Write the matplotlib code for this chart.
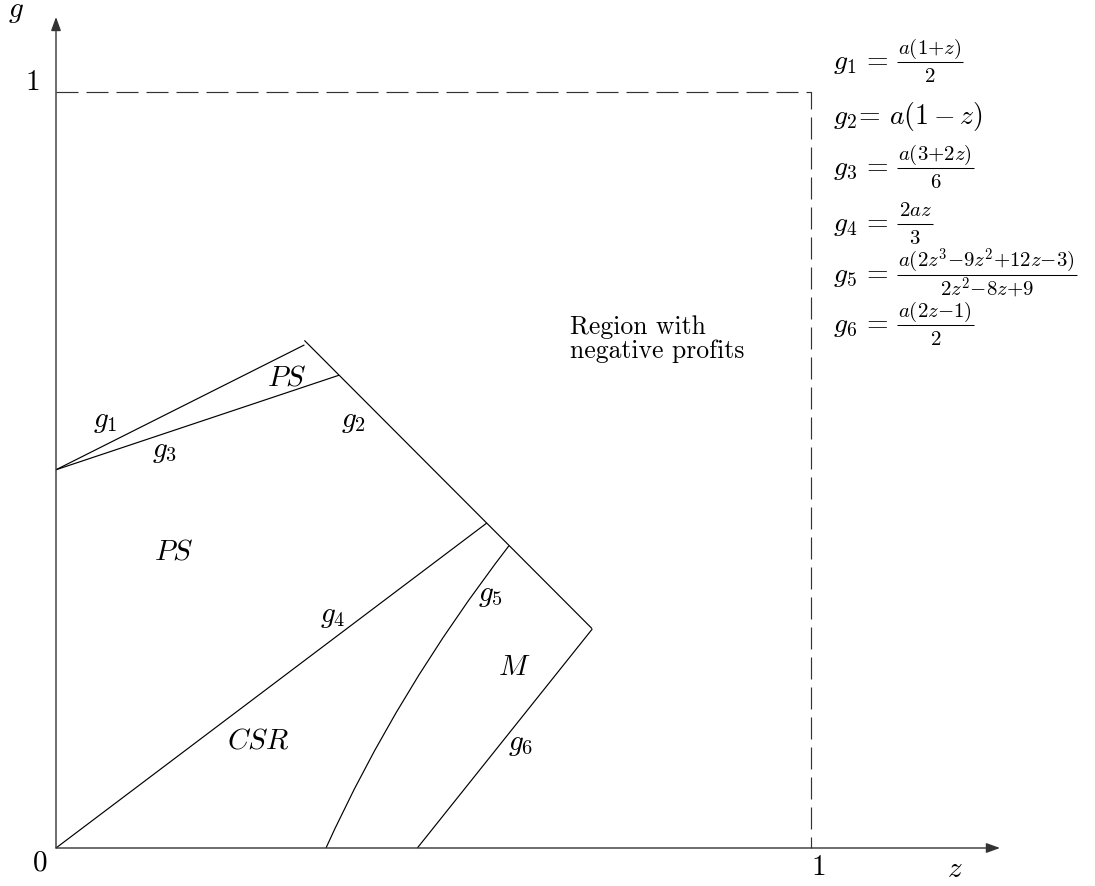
import matplotlib
matplotlib.use('Agg')
import matplotlib.pyplot as plt
from matplotlib.path import Path
from matplotlib.patches import PathPatch

plt.rcParams['mathtext.fontset'] = 'cm'
plt.rcParams['font.family'] = ['cmr10', 'DejaVu Serif']
plt.rcParams['axes.unicode_minus'] = False

# ---------------- data ----------------
g1_z = [0.0, 0.329]
g1_g = [0.500, 0.665]
g3_z = [0.0, 0.375]
g3_g = [0.500, 0.625]
g2_z = [0.329, 0.710]
g2_g = [0.671, 0.290]
g4_z = [0.0, 0.5705]
g4_g = [0.0, 0.4295]
g5_z = [0.3576, 0.452, 0.600]      # quadratic Bezier (start, control, end)
g5_g = [0.0, 0.208, 0.3996]
g6_z = [0.4786, 0.7103]
g6_g = [0.0, 0.2895]
bound_z = [0.0, 1.0, 1.0]
bound_g = [1.0, 1.0, 0.0]

curve_labels = [r'$g_1$', r'$g_3$', r'$g_2$', r'$g_4$', r'$g_5$', r'$g_6$']
curve_label_z = [0.065, 0.144, 0.394, 0.367, 0.575, 0.615]
curve_label_g = [0.563, 0.524, 0.563, 0.306, 0.334, 0.136]

region_labels = [r'$PS$', r'$PS$', r'$CSR$', r'$M$']
region_label_z = [0.3055, 0.1554, 0.268, 0.607]
region_label_g = [0.621, 0.391, 0.1405, 0.238]

formula_lhs = [r'$g_1\,=$', r'$g_2\!=\,a(1-z)$', r'$g_3\,=$',
               r'$g_4\,=$', r'$g_5\,=$', r'$g_6\,=$']
formula_num = [r'$a(1{+}z)$', '', r'$a(3{+}2z)$', r'$2az$',
               r'$a(2z^3{-}9z^2{+}12z{-}3)$', r'$a(2z{-}1)$']
formula_den = [r'$2$', '', r'$6$', r'$3$', r'$2z^2{-}8z{+}9$', r'$2$']
formula_axis_px = [62, 117, 168, 224, 275, 325]   # vertical pixel of each line's math axis

# ---------------- figure ----------------
W, H = 1095, 886
fig = plt.figure(figsize=(W / 100, H / 100), dpi=100)
ax = fig.add_axes([0, 0, 1, 1])
ox, oy, sx, sy = 56, 848, 755, 756.5
ax.set_xlim((0 - ox) / sx, (W - ox) / sx)
ax.set_ylim((oy - H) / sy, oy / sy)
ax.axis('off')

lw = 0.85
kw = dict(color='black', lw=lw, solid_capstyle='butt')
ax.plot(g1_z, g1_g, **kw)
ax.plot(g3_z, g3_g, **kw)
ax.plot(g2_z, g2_g, **kw)
ax.plot(g4_z, g4_g, **kw)
ax.plot(g6_z, g6_g, **kw)
path = Path(list(zip(g5_z, g5_g)), [Path.MOVETO, Path.CURVE3, Path.CURVE3])
ax.add_patch(PathPatch(path, fill=False, edgecolor='black', lw=lw))

# dashed boundary
ax.plot(bound_z, bound_g, color='#333333', lw=0.85,
        dashes=(22 * 0.72 / 0.85, 8 * 0.72 / 0.85))

# axes with arrows
aprops = dict(arrowstyle='-|>,head_length=0.55,head_width=0.2', color='#333333',
              lw=1.0, shrinkA=0, shrinkB=0, mutation_scale=15)
ax.annotate('', xy=(1.2503, 0), xytext=(0, 0), arrowprops=aprops)
ax.annotate('', xy=(0, 1.0985), xytext=(0, 0), arrowprops=aprops)

# axis labels
ax.text(-0.053, 1.105, r'$g$', fontsize=21, ha='center', va='center')
ax.text(-0.032, 1.012, r'$1$', fontsize=21, ha='center', va='center')
ax.text(-0.021, -0.020, r'$0$', fontsize=21, ha='center', va='center')
ax.text(1.009, -0.026, r'$1$', fontsize=21, ha='center', va='center')
ax.text(1.19, -0.029, r'$z$', fontsize=21, ha='center', va='center')

for t, z, g in zip(curve_labels, curve_label_z, curve_label_g):
    ax.text(z, g, t, fontsize=21, ha='center', va='center')
for t, z, g in zip(region_labels, region_label_z, region_label_g):
    ax.text(z, g, t, fontsize=21, ha='center', va='center')

ax.text(0.681, 0.673, 'Region with\nnegative profits', fontsize=18.5,
        ha='left', va='center', linespacing=1.0)

# formulas (TeX-like fractions: numerator / bar / denominator)
fig.canvas.draw()
renderer = fig.canvas.get_renderer()
to_z = lambda p: (p - ox) / sx
to_g = lambda p: (oy - p) / sy
lhs_x, frac_x = 833, 897
for lhs, num, den, axis_px in zip(formula_lhs, formula_num, formula_den, formula_axis_px):
    ax.text(to_z(lhs_x), to_g(axis_px + 7), lhs, fontsize=20, ha='left', va='baseline')
    if not num:
        continue
    tn = ax.text(0, 0, num, fontsize=15, ha='center', va='baseline')
    td = ax.text(0, 0, den, fontsize=15, ha='center', va='baseline')
    wn = tn.get_window_extent(renderer).width
    wd = td.get_window_extent(renderer).width
    w = max(wn, wd) + 3
    cx = frac_x + w / 2
    tn.set_position((to_z(cx), to_g(axis_px - 8)))
    td.set_position((to_z(cx), to_g(axis_px + 20)))
    ax.plot([to_z(frac_x), to_z(frac_x + w)], [to_g(axis_px), to_g(axis_px)],
            color='black', lw=0.75, solid_capstyle='butt')

fig.savefig('out.png', dpi=100)
